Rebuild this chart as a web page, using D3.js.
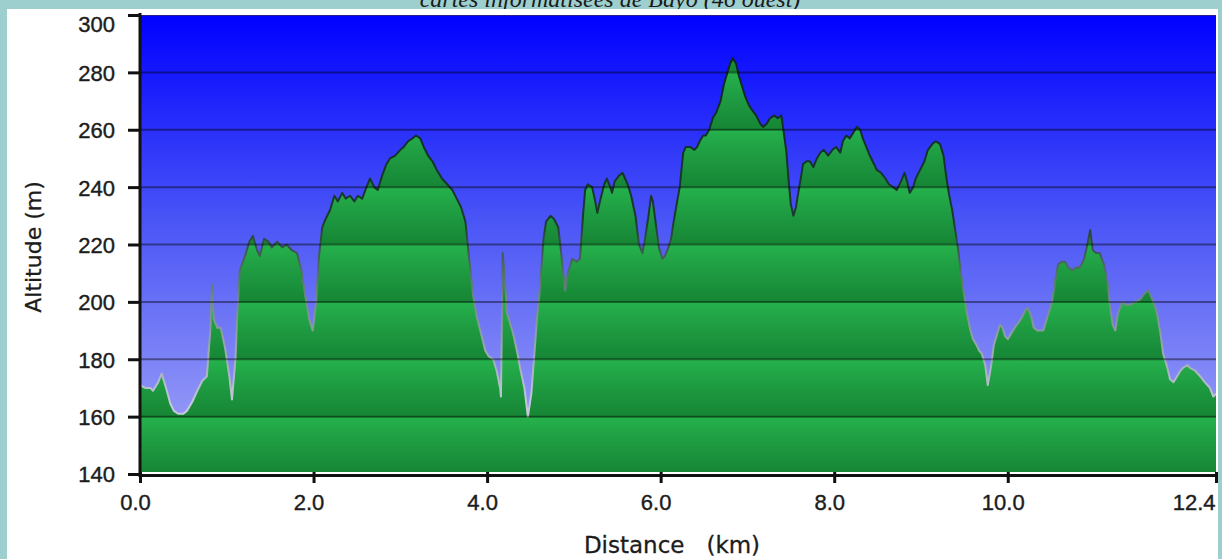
<!DOCTYPE html>
<html>
<head>
<meta charset="utf-8">
<script src="https://cdn.jsdelivr.net/npm/d3@7"></script>
<style>
  html, body { margin: 0; padding: 0; background: #9dcfcf; }
  svg { display: block; }
</style>
</head>
<body>
<div id="profile"></div>
<script>
// elevation profile
var titleText = "cartes informatisées de Bayo (46 ouest)";
var xLabel = "Distance   (km)";
var yLabel = "Altitude (m)";
var distTicks = [0, 2, 4, 6, 8, 10, 12.4];
var altTicks = [140, 160, 180, 200, 220, 240, 260, 280, 300];

var distanceKm = [
  0.00, 0.06, 0.12, 0.15, 0.21, 0.25, 0.30, 0.35, 0.39, 0.44, 0.50, 0.54, 0.60, 0.66, 0.72, 0.77,
  0.81, 0.83, 0.85, 0.89, 0.93, 0.98, 1.03, 1.06, 1.10, 1.12, 1.15, 1.21, 1.26, 1.30, 1.35, 1.38,
  1.43, 1.48, 1.52, 1.58, 1.64, 1.69, 1.75, 1.81, 1.86, 1.90, 1.95, 1.99, 2.03, 2.06, 2.10, 2.14,
  2.19, 2.24, 2.28, 2.33, 2.37, 2.42, 2.47, 2.51, 2.56, 2.61, 2.65, 2.70, 2.74, 2.79, 2.84, 2.88,
  2.94, 3.00, 3.04, 3.09, 3.14, 3.18, 3.23, 3.27, 3.32, 3.37, 3.42, 3.48, 3.54, 3.60, 3.65, 3.70,
  3.75, 3.79, 3.84, 3.88, 3.93, 3.98, 4.02, 4.07, 4.11, 4.15, 4.16, 4.18, 4.21, 4.23, 4.26, 4.30,
  4.35, 4.38, 4.43, 4.47, 4.51, 4.54, 4.58, 4.61, 4.65, 4.68, 4.73, 4.77, 4.82, 4.85, 4.90, 4.93,
  4.98, 5.03, 5.07, 5.11, 5.13, 5.16, 5.21, 5.24, 5.27, 5.30, 5.35, 5.38, 5.42, 5.44, 5.47, 5.52,
  5.56, 5.59, 5.62, 5.66, 5.71, 5.75, 5.79, 5.82, 5.86, 5.89, 5.91, 5.95, 5.98, 6.02, 6.05, 6.09,
  6.12, 6.15, 6.19, 6.22, 6.26, 6.29, 6.34, 6.39, 6.42, 6.45, 6.49, 6.52, 6.56, 6.60, 6.64, 6.69,
  6.73, 6.77, 6.80, 6.83, 6.87, 6.90, 6.94, 6.97, 7.01, 7.05, 7.10, 7.15, 7.18, 7.22, 7.26, 7.31,
  7.35, 7.39, 7.41, 7.45, 7.47, 7.50, 7.53, 7.56, 7.58, 7.62, 7.64, 7.68, 7.72, 7.76, 7.80, 7.84,
  7.88, 7.93, 7.98, 8.02, 8.07, 8.10, 8.14, 8.18, 8.22, 8.26, 8.30, 8.33, 8.37, 8.41, 8.46, 8.49,
  8.54, 8.59, 8.63, 8.68, 8.72, 8.77, 8.81, 8.84, 8.87, 8.91, 8.94, 8.99, 9.04, 9.08, 9.13, 9.17,
  9.22, 9.26, 9.29, 9.32, 9.36, 9.39, 9.43, 9.46, 9.50, 9.53, 9.57, 9.60, 9.64, 9.67, 9.70, 9.74,
  9.77, 9.81, 9.84, 9.88, 9.91, 9.94, 9.97, 10.00, 10.04, 10.08, 10.13, 10.17, 10.20, 10.23, 10.27, 10.30,
  10.34, 10.37, 10.41, 10.44, 10.48, 10.51, 10.55, 10.58, 10.62, 10.66, 10.70, 10.74, 10.79, 10.83, 10.88, 10.91,
  10.95, 10.98, 11.02, 11.06, 11.11, 11.15, 11.18, 11.21, 11.24, 11.27, 11.32, 11.36, 11.41, 11.47, 11.53, 11.58,
  11.62, 11.65, 11.69, 11.72, 11.76, 11.79, 11.84, 11.87, 11.91, 11.95, 11.99, 12.02, 12.07, 12.10, 12.16, 12.22,
  12.27, 12.33, 12.37, 12.40
];

var altitudeM = [
  171, 170, 170, 169, 172, 175, 170, 164.5, 162, 161, 161, 162, 165, 169, 172.6, 174,
  190, 206, 194, 191, 191, 184, 174, 166, 180, 195, 211, 216, 221, 223, 218, 216,
  222, 221, 219, 221, 219, 220, 218, 217, 211, 203, 194, 190, 200, 215, 226, 229,
  232, 237, 235, 238, 236, 237, 235, 237, 236, 240, 243, 240, 239, 244, 248, 250,
  251, 253, 254, 256, 257, 258, 257, 254, 251, 249, 246, 243, 241, 239, 236, 233,
  228, 216, 202, 195, 189, 183, 181, 180, 176, 170, 167, 217, 205, 196, 193, 189,
  182, 177, 170, 160, 168, 180, 196, 205, 222, 228, 230, 229, 226, 218, 204, 210,
  215, 214, 215, 232, 239, 241, 240, 236, 231, 235, 241, 243, 240, 238, 242, 244,
  245, 243, 241, 237, 230, 220, 217, 222, 230, 237, 235, 226, 219, 215, 216, 219,
  222, 228, 235, 240, 252, 254, 254, 253, 254, 256, 258, 258, 260, 264, 266, 270,
  276, 280, 283, 285, 283, 279, 275, 272, 269, 267, 265, 262, 261, 262, 264, 265,
  264, 265, 261, 252, 244, 234, 230, 233, 237, 244, 248, 249, 249, 247, 250, 252,
  253, 251, 253, 254, 252, 256, 258, 257, 259, 261, 260, 257, 254, 251, 248, 246,
  245, 243, 241, 240, 239, 242, 245, 242, 238, 240, 243, 246, 249, 253, 255, 256,
  255, 251, 244, 238, 232, 226, 218, 210, 202, 196, 190, 187, 185, 183, 182, 178,
  171, 178, 185, 189, 192, 191, 188, 187, 189, 191, 193, 195, 197, 198, 195, 191,
  190, 190, 190, 193, 197, 200, 208, 213, 214, 214, 212, 211, 212, 212, 215, 219,
  225, 218, 217, 217, 213, 207, 198, 192, 190, 196, 200, 199, 199, 200, 201, 203,
  204, 202, 199, 196, 189, 182, 177, 173, 172, 174, 176, 177, 178, 177, 176, 174,
  172, 170, 167, 168
];

var W = 1222, H = 559;
var plot = {left: 140, right: 1216, top: 15, bottom: 472};

var data = distanceKm.map(function(d, i) { return {km: d, alt: altitudeM[i]}; });

var x = d3.scaleLinear().domain([0, 12.4]).range([plot.left, plot.right]);
var y = d3.scaleLinear().domain([140, 300]).range([474, plot.top]);

var svg = d3.select("#profile").append("svg")
    .attr("width", W)
    .attr("height", H)
    .style("font-family", "'DejaVu Sans', Verdana, sans-serif");

var defs = svg.append("defs");

// sky: deep blue fading to lavender
var sky = defs.append("linearGradient").attr("id", "sky")
    .attr("x1", 0).attr("y1", 0).attr("x2", 0).attr("y2", 1);
sky.append("stop").attr("offset", "0%").attr("stop-color", "#0000ff");
sky.append("stop").attr("offset", "45%").attr("stop-color", "#4a55f6");
sky.append("stop").attr("offset", "100%").attr("stop-color", "#a6a9f6");

// green bands repeat every 20 m
var band = defs.append("linearGradient").attr("id", "band")
    .attr("gradientUnits", "userSpaceOnUse")
    .attr("spreadMethod", "repeat")
    .attr("x1", 0).attr("y1", y(300)).attr("x2", 0).attr("y2", y(280));
band.append("stop").attr("offset", "0%").attr("stop-color", "#25b24c");
band.append("stop").attr("offset", "35%").attr("stop-color", "#20a044");
band.append("stop").attr("offset", "100%").attr("stop-color", "#168535");

// outline: dark up high, pale down low
var edge = defs.append("linearGradient").attr("id", "edge")
    .attr("gradientUnits", "userSpaceOnUse")
    .attr("x1", 0).attr("y1", plot.top).attr("x2", 0).attr("y2", plot.bottom);
edge.append("stop").attr("offset", "0%").attr("stop-color", "#0b2222");
edge.append("stop").attr("offset", "45%").attr("stop-color", "#1c3a30");
edge.append("stop").attr("offset", "62%").attr("stop-color", "#6f8a86");
edge.append("stop").attr("offset", "85%").attr("stop-color", "#c4c8d8");
edge.append("stop").attr("offset", "100%").attr("stop-color", "#d0d2e0");

defs.append("clipPath").attr("id", "clip")
  .append("rect")
    .attr("x", plot.left).attr("y", plot.top)
    .attr("width", plot.right - plot.left).attr("height", plot.bottom - plot.top);

// teal frame + title peeking above the white panel (cut off in the original too)
svg.append("rect").attr("width", W).attr("height", H).attr("fill", "#9dcfcf");
svg.append("text")
    .attr("x", 610).attr("y", 6.5)
    .attr("text-anchor", "middle")
    .style("font-family", "'Liberation Serif', 'Times New Roman', serif")
    .style("font-style", "italic")
    .style("font-size", "24px")
    .attr("fill", "#1a1a1a")
    .text(titleText);
svg.append("rect").attr("x", 7).attr("y", 9).attr("width", 1211).attr("height", H - 9).attr("fill", "#ffffff");

// plot body
var body = svg.append("g").attr("clip-path", "url(#clip)");
body.append("rect")
    .attr("x", plot.left).attr("y", plot.top)
    .attr("width", plot.right - plot.left).attr("height", plot.bottom - plot.top)
    .attr("fill", "url(#sky)");

var area = d3.area()
    .x(function(d) { return x(d.km); })
    .y0(plot.bottom + 2)
    .y1(function(d) { return y(d.alt); });

body.append("path").datum(data)
    .attr("d", area)
    .attr("fill", "url(#band)");

var line = d3.line()
    .x(function(d) { return x(d.km); })
    .y(function(d) { return y(d.alt); });

body.append("path").datum(data)
    .attr("d", line)
    .attr("fill", "none")
    .attr("stroke", "url(#edge)")
    .attr("stroke-width", 2)
    .attr("stroke-linejoin", "round");

// horizontal grid lines over everything
body.selectAll(".grid").data(altTicks.slice(1))
  .enter().append("line")
    .attr("class", "grid")
    .attr("x1", plot.left).attr("x2", plot.right)
    .attr("y1", function(d) { return y(d); })
    .attr("y2", function(d) { return y(d); })
    .attr("stroke", "#000")
    .attr("stroke-opacity", 0.42)
    .attr("stroke-width", 2);

// thin dark rim along the top
svg.append("line")
    .attr("x1", plot.left).attr("x2", plot.right)
    .attr("y1", plot.top + 0.5).attr("y2", plot.top + 0.5)
    .attr("stroke", "#2a1a8a").attr("stroke-width", 1);

// y axis
var yAxis = d3.axisLeft(y).tickValues(altTicks).tickSize(12).tickPadding(13).tickFormat(d3.format("d"));
var gy = svg.append("g").attr("transform", "translate(" + plot.left + ",0)").call(yAxis);
gy.select(".domain").remove();
gy.selectAll(".tick line").attr("stroke", "#111").attr("stroke-width", 3);
gy.selectAll(".tick text")
    .attr("fill", "#1c1c1c")
    .attr("stroke", "#1c1c1c").attr("stroke-width", 0.4)
    .style("font-size", "22px")
    .attr("dy", function(d) { return y(d) - 9 < plot.top ? "0.75em" : "0.36em"; });

svg.append("line")
    .attr("x1", plot.left).attr("x2", plot.left)
    .attr("y1", plot.top - 2).attr("y2", 477)
    .attr("stroke", "#111").attr("stroke-width", 3);

// x axis
var xAxis = d3.axisBottom(x).tickValues(distTicks).tickSize(8).tickFormat(d3.format(".1f"));
var gx = svg.append("g").attr("transform", "translate(0,475)").call(xAxis);
gx.select(".domain").remove();
gx.selectAll(".tick line").attr("y1", -3).attr("y2", 8).attr("stroke", "#111").attr("stroke-width", 3);
gx.selectAll(".tick text")
    .attr("fill", "#1c1c1c")
    .attr("stroke", "#1c1c1c").attr("stroke-width", 0.4)
    .style("font-size", "22px")
    .attr("y", 35).attr("dy", 0)
    .attr("text-anchor", function(d, i) { return i === distTicks.length - 1 ? "end" : "middle"; })
    .attr("x", function(d, i) { return i === distTicks.length - 1 ? -1 : -5; });

svg.append("line")
    .attr("x1", plot.left - 1).attr("x2", plot.right + 2)
    .attr("y1", 475.5).attr("y2", 475.5)
    .attr("stroke", "#111").attr("stroke-width", 3);

// axis titles
svg.append("text")
    .attr("x", 672).attr("y", 553)
    .attr("text-anchor", "middle")
    .attr("fill", "#1c1c1c")
    .attr("stroke", "#1c1c1c").attr("stroke-width", 0.3)
    .style("font-size", "23px")
    .style("white-space", "pre")
    .attr("xml:space", "preserve")
    .text(xLabel);

svg.append("text")
    .attr("transform", "translate(41,247) rotate(-90)")
    .attr("text-anchor", "middle")
    .attr("fill", "#1c1c1c")
    .attr("stroke", "#1c1c1c").attr("stroke-width", 0.3)
    .style("font-size", "22px")
    .text(yLabel);
</script>
</body>
</html>
